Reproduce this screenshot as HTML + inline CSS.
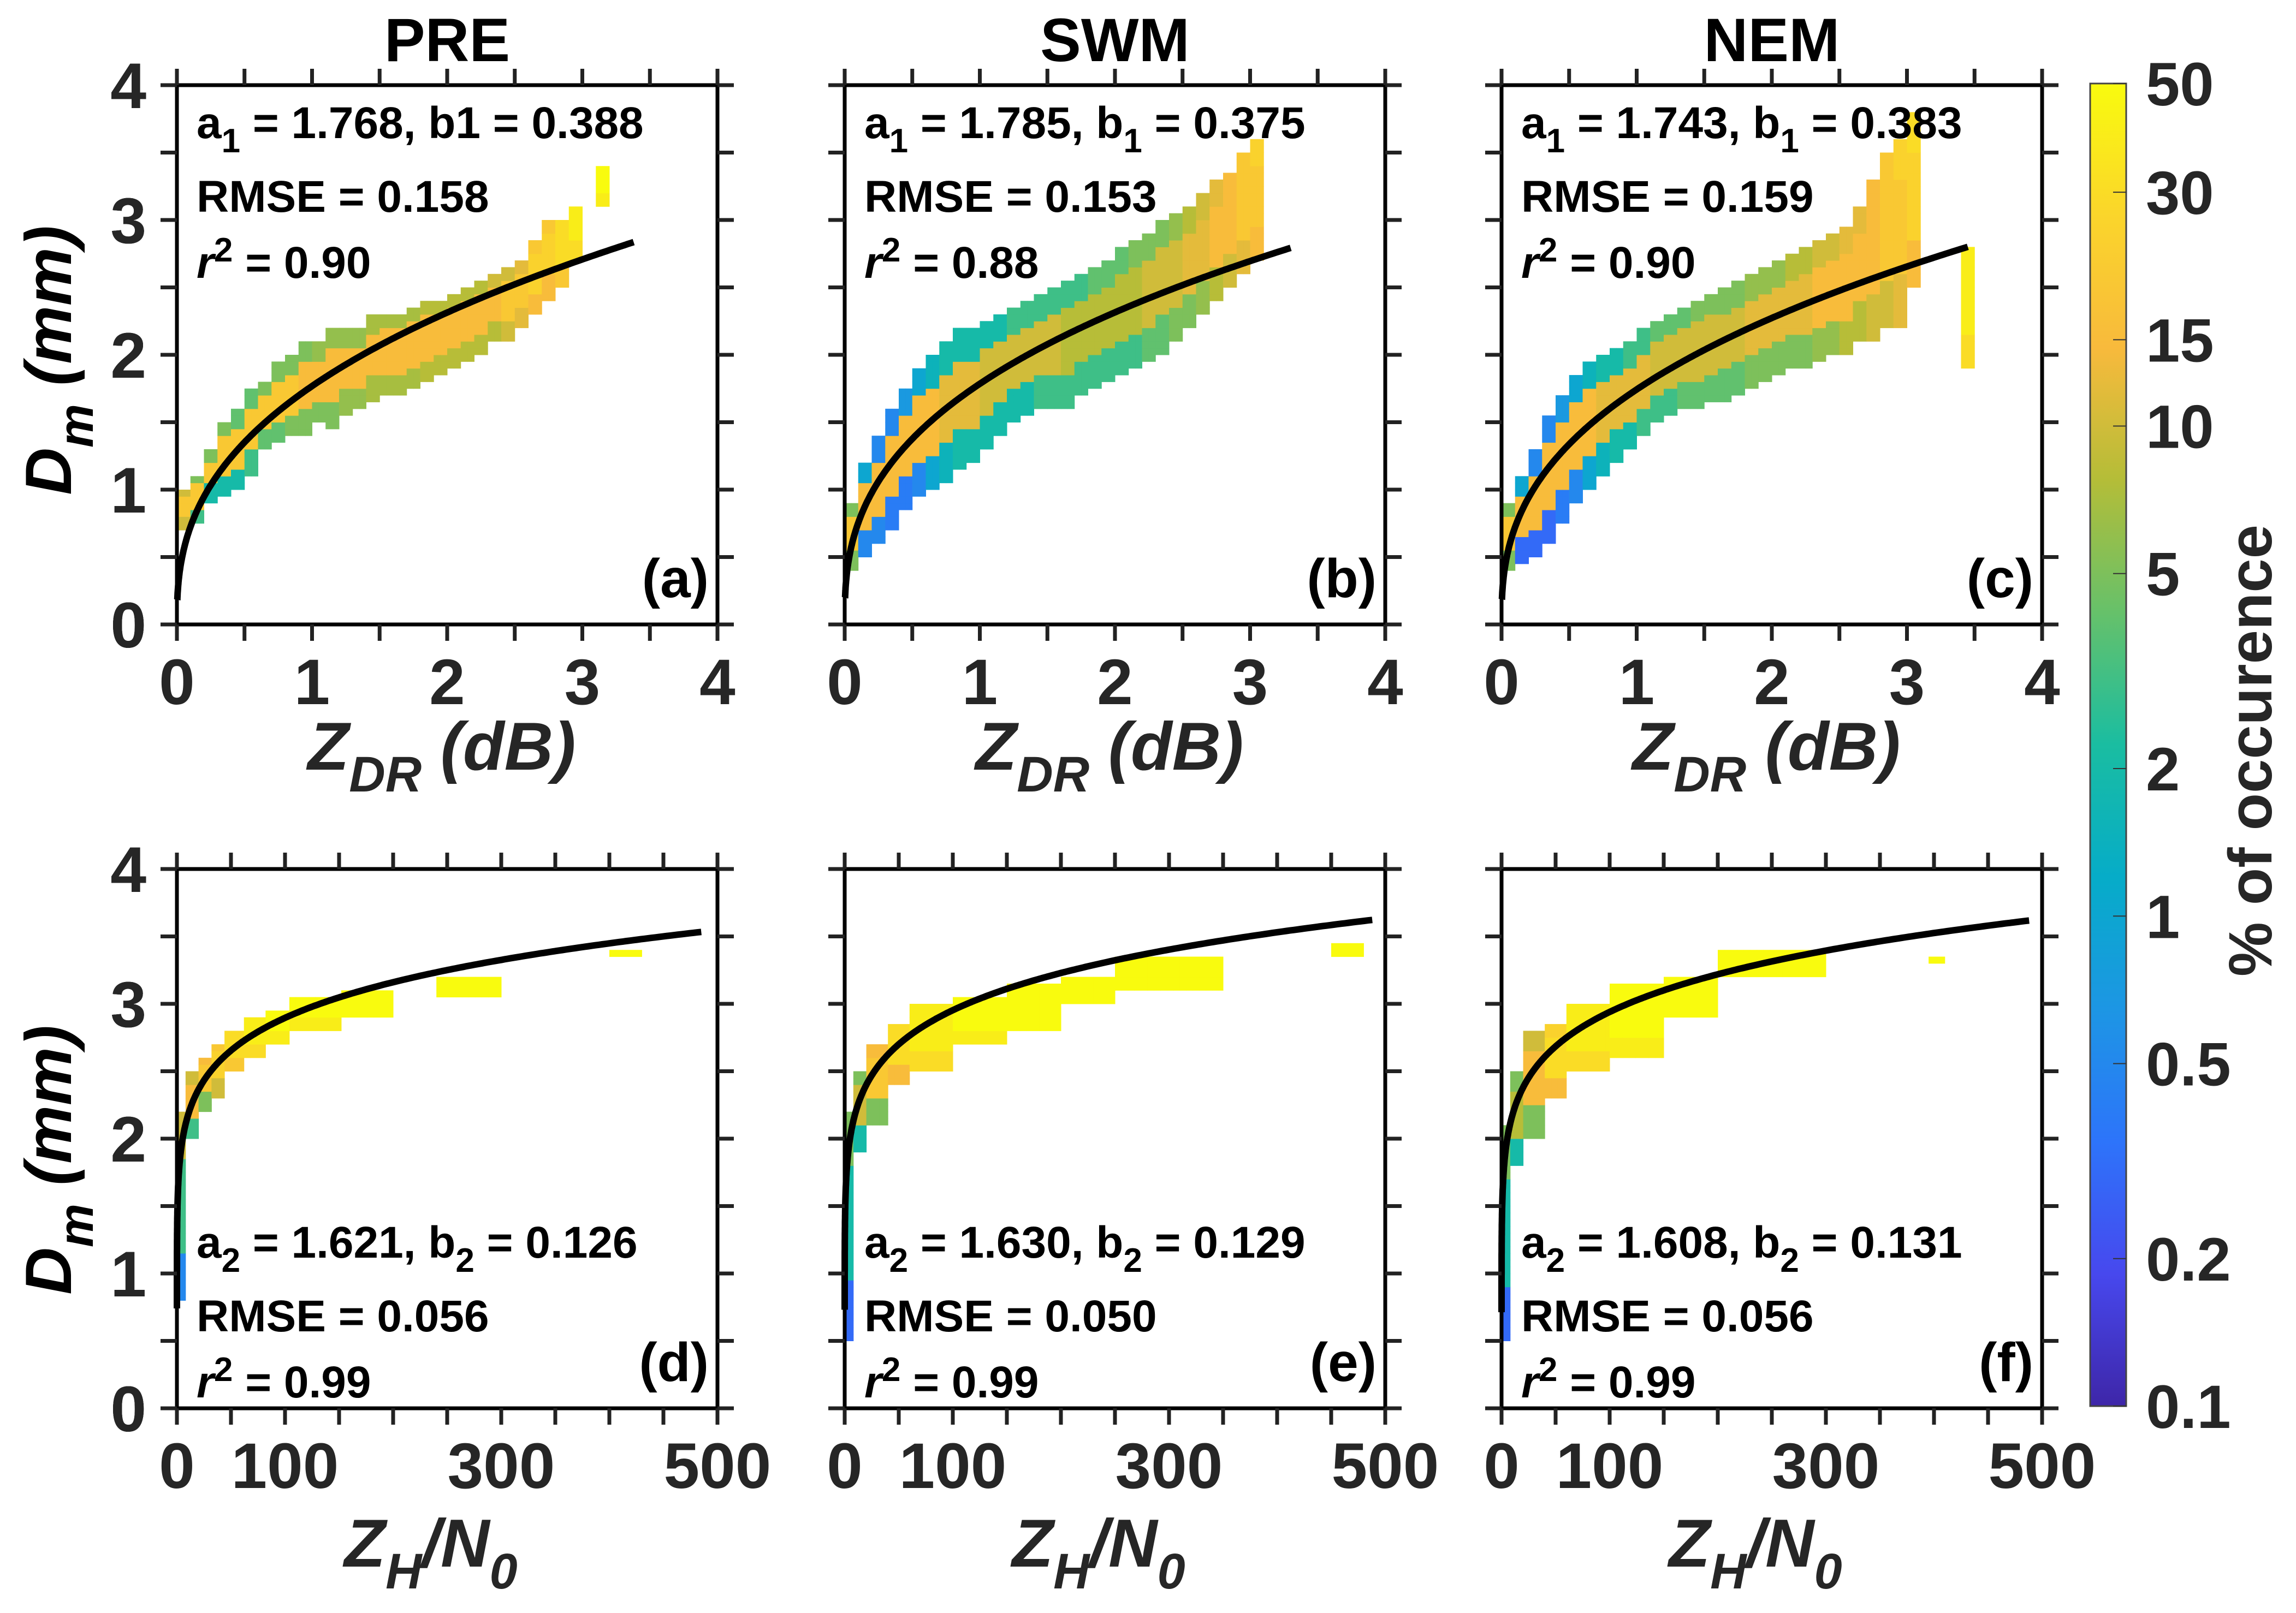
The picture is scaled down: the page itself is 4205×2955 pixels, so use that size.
<!DOCTYPE html>
<html><head><meta charset="utf-8">
<style>
html,body{margin:0;padding:0;background:#fff;}
svg{display:block;}
text{font-family:"Liberation Sans",Arial,sans-serif;font-weight:bold;}
</style></head>
<body>
<svg id="fig" width="4205" height="2955" viewBox="0 0 4205 2955" xmlns="http://www.w3.org/2000/svg">
<defs>
<linearGradient id="parula" x1="0" y1="1" x2="0" y2="0">
<stop offset="0" stop-color="rgb(62,38,168)"/>
<stop offset="0.1" stop-color="rgb(71,72,238)"/>
<stop offset="0.2" stop-color="rgb(45,116,250)"/>
<stop offset="0.3" stop-color="rgb(29,150,228)"/>
<stop offset="0.4" stop-color="rgb(6,172,200)"/>
<stop offset="0.5" stop-color="rgb(26,189,161)"/>
<stop offset="0.6" stop-color="rgb(102,193,106)"/>
<stop offset="0.7" stop-color="rgb(180,189,56)"/>
<stop offset="0.8" stop-color="rgb(248,186,60)"/>
<stop offset="0.9" stop-color="rgb(250,213,43)"/>
<stop offset="1" stop-color="rgb(249,251,14)"/>
</linearGradient>
</defs>
</svg>
<script>
// ---------- data ----------
const panelTitles = ["PRE","SWM","NEM"];
const panelLetters = ["(a)","(b)","(c)","(d)","(e)","(f)"];
const fitA1 = [1.768,1.785,1.743];
const fitB1 = [0.388,0.375,0.383];
const fitA2 = [1.621,1.630,1.608];
const fitB2 = [0.126,0.129,0.131];
const rmseTop = ["0.158","0.153","0.159"];
const rmseBot = ["0.056","0.050","0.056"];
const r2Top = ["0.90","0.88","0.90"];
const r2Bot = ["0.99","0.99","0.99"];
const curveEndTop = [3.38,3.3,3.45];
const curveEndBot = [485,488,488];
const xTicksTop = [0,1,2,3,4];
const xTicksBot = [0,100,300,500];
const yTicks = [0,1,2,3,4];
const cbTicks = [0.1,0.2,0.5,1,2,5,10,15,30,50];
// heatmap bands, top row: [zdr bin start, Dm low, Dm high, value low edge, value core, value high edge]
const bandsA = [[0.0,0.7,1.0,10,20,10],[0.1,0.75,1.1,3,20,5],[0.2,0.9,1.3,2,20,5],[0.3,0.95,1.5,2,20,5],[0.4,1.0,1.6,2,20,4],[0.5,1.1,1.75,3,20,4],[0.6,1.3,1.8,4,20,5],[0.7,1.35,1.95,4,20,5],[0.8,1.4,2.0,5,20,5],[0.9,1.4,2.1,5,15,5],[1.0,1.5,2.1,5,15,6],[1.1,1.45,2.2,5,15,6],[1.2,1.55,2.2,6,15,6],[1.3,1.6,2.2,6,15,6],[1.4,1.65,2.3,7,15,7],[1.5,1.7,2.3,7,15,7],[1.6,1.7,2.3,7,15,7],[1.7,1.75,2.35,7,15,7],[1.8,1.8,2.4,8,15,8],[1.9,1.85,2.4,8,15,8],[2.0,1.9,2.45,8,15,8],[2.1,1.95,2.5,8,15,8],[2.2,2.0,2.55,8,15,8],[2.3,2.1,2.6,8,15,10],[2.4,2.1,2.65,10,20,10],[2.5,2.2,2.7,12,20,12],[2.6,2.3,2.85,15,25,20],[2.7,2.4,3.0,15,25,20],[2.8,2.5,3.0,20,30,30],[2.9,2.7,3.1,30,40,40],[3.1,3.1,3.4,40,50,50]];
const bandsB = [[0.0,0.4,0.9,5,20,5],[0.1,0.5,1.2,0.5,15,1],[0.2,0.6,1.4,0.5,15,0.5],[0.3,0.7,1.6,0.4,15,0.5],[0.4,0.85,1.75,0.4,15,0.7],[0.5,0.95,1.9,0.5,15,1],[0.6,1.0,2.0,1,15,1.5],[0.7,1.05,2.1,1.5,12,2],[0.8,1.15,2.2,2,12,2],[0.9,1.2,2.2,2,12,2],[1.0,1.3,2.25,2,10,2],[1.1,1.4,2.3,2,10,2],[1.2,1.5,2.35,2,10,3],[1.3,1.55,2.4,2,10,3],[1.4,1.6,2.45,3,10,3],[1.5,1.6,2.5,3,10,3],[1.6,1.6,2.55,3,8,3],[1.7,1.7,2.6,3,8,3],[1.8,1.75,2.65,3,8,4],[1.9,1.8,2.7,3,8,4],[2.0,1.85,2.8,3,8,4],[2.1,1.9,2.85,3,8,5],[2.2,1.95,2.9,4,10,5],[2.3,2.0,3.0,4,10,5],[2.4,2.1,3.05,5,10,6],[2.5,2.2,3.1,5,12,8],[2.6,2.3,3.2,6,12,10],[2.7,2.4,3.3,8,15,12],[2.8,2.5,3.35,10,15,15],[2.9,2.6,3.5,12,20,20],[3.0,2.7,3.6,15,20,25]];
const bandsC = [[0.0,0.4,0.9,5,20,5],[0.1,0.45,1.1,0.3,15,1],[0.2,0.5,1.3,0.3,15,0.5],[0.3,0.6,1.55,0.3,15,0.5],[0.4,0.75,1.7,0.4,15,0.7],[0.5,0.9,1.85,0.5,15,1],[0.6,1.0,1.95,1,15,1.5],[0.7,1.1,2.0,1.5,12,2],[0.8,1.2,2.05,2,12,2],[0.9,1.3,2.1,2,12,3],[1.0,1.4,2.2,3,12,3],[1.1,1.5,2.25,3,10,4],[1.2,1.55,2.3,3,10,4],[1.3,1.6,2.35,4,10,4],[1.4,1.6,2.4,4,10,5],[1.5,1.65,2.45,4,10,5],[1.6,1.65,2.5,4,10,5],[1.7,1.7,2.55,4,10,5],[1.8,1.75,2.6,5,12,6],[1.9,1.8,2.65,5,12,6],[2.0,1.85,2.7,5,12,6],[2.1,1.9,2.75,5,12,8],[2.2,1.9,2.8,5,12,8],[2.3,1.95,2.85,6,15,10],[2.4,2.0,2.9,6,15,10],[2.5,2.0,2.95,8,15,12],[2.6,2.1,3.1,8,15,12],[2.7,2.1,3.3,10,15,15],[2.8,2.2,3.5,10,20,20],[2.9,2.2,3.6,12,20,25],[3.0,2.5,3.8,15,25,30],[3.4,1.9,2.8,30,40,40]];
// bottom row: [x start, x end, Dm low, Dm high, value low edge, value core, value high edge]
const bandsD = [[0,8,0.8,2.2,0.5,3,10],[8,20,2.0,2.5,3,15,10],[20,32,2.2,2.6,5,20,15],[32,44,2.3,2.7,10,25,20],[44,62,2.5,2.8,20,30,30],[62,82,2.6,2.9,30,40,40],[82,104,2.7,2.95,40,50,50],[104,152,2.8,3.05,40,50,50],[152,200,2.9,3.1,50,50,50],[240,300,3.05,3.2,50,50,50],[400,430,3.35,3.4,50,50,50]];
const bandsE = [[0,8,0.5,2.2,0.3,2,5],[8,20,1.9,2.5,2,10,5],[20,40,2.1,2.7,5,20,15],[40,60,2.4,2.85,15,30,30],[60,100,2.5,3.0,30,40,40],[100,150,2.7,3.05,40,50,50],[150,200,2.8,3.15,50,50,50],[200,250,3.0,3.2,50,50,50],[250,350,3.1,3.35,50,50,50],[450,480,3.35,3.45,50,50,50]];
const bandsF = [[0,8,0.5,2.1,0.3,2,5],[8,20,1.8,2.5,2,8,5],[20,40,2.0,2.8,5,15,10],[40,60,2.3,2.85,15,30,25],[60,100,2.5,3.0,30,40,40],[100,150,2.6,3.15,40,50,50],[150,200,2.9,3.2,50,50,50],[200,300,3.2,3.4,50,50,50],[395,410,3.3,3.35,50,50,50]];
const topBands = [bandsA,bandsB,bandsC];
const botBands = [bandsD,bandsE,bandsF];

// ---------- layout ----------
const NS="http://www.w3.org/2000/svg";
const svg=document.getElementById('fig');
const colL=[324,1547,2750];
const PW=990, PH=988;
const rowT=[156,1592];
const CB={x:3828,y:153,w:66,h:2423};
const parulaStops=[[62,38,168],[71,72,238],[45,116,250],[29,150,228],[6,172,200],[26,189,161],[102,193,106],[180,189,56],[248,186,60],[250,213,43],[249,251,14]];
function cmap(v){
  let t=Math.log10(v/0.1)/Math.log10(500);
  t=Math.max(0,Math.min(1,t))*10;
  const i=Math.min(9,Math.floor(t)),f=t-i;
  const a=parulaStops[i],b=parulaStops[i+1];
  return `rgb(${Math.round(a[0]+(b[0]-a[0])*f)},${Math.round(a[1]+(b[1]-a[1])*f)},${Math.round(a[2]+(b[2]-a[2])*f)})`;
}
function el(tag,attrs,parent){const e=document.createElementNS(NS,tag);for(const k in attrs)e.setAttribute(k,attrs[k]);(parent||svg).appendChild(e);return e;}
function txt(s,x,y,size,anchor,parent,extra){const t=el('text',Object.assign({x:x,y:y,'font-size':size,'text-anchor':anchor||'start'},extra||{}),parent);t.textContent=s;return t;}

function drawPanel(row,col){
  const L=colL[col],T=rowT[row],R=L+PW,B=T+PH;
  const xmax=row===0?4:500;
  const sx=v=>L+v/xmax*PW, sy=v=>B-v/4*PH;
  const g=el('g',{});
  
  
  const hm=el('g',{},g);
  
  
  const dy=0.05;
  if(row===0){
    topBands[col].forEach(b=>{
      for(let sub=0;sub<2;sub++){
        const x0=b[0]+sub*0.05;
        for(let y=b[1];y<b[2]-1e-6;y+=dy){
          const f=(y-b[1])/(b[2]-b[1]);
          const v=f<0.25?b[3]:(f>0.75?b[5]:b[4]);
          const r=el('rect',{x:sx(x0),y:sy(y+dy),width:sx(x0+0.05)-sx(x0)+0.5,height:sy(y)-sy(y+dy)+0.5,fill:cmap(v)},hm);
          
          
        }
      }
    });
  } else {
    botBands[col].forEach(b=>{
      for(let x0=b[0];x0<b[1]-1e-6;x0+=6){
        for(let y=b[2];y<b[3]-1e-6;y+=dy){
          const f=(y-b[2])/(b[3]-b[2]);
          const v=f<0.25?b[4]:(f>0.75?b[6]:b[5]);
          const r=el('rect',{x:sx(x0),y:sy(y+dy),width:sx(Math.min(x0+6,b[1]))-sx(x0)+0.5,height:sy(y)-sy(y+dy)+0.5,fill:cmap(v)},hm);
          
          
        }
      }
    });
  }
  let pts=[];
  if(row===0){
    const a=fitA1[col],b=fitB1[col],xe=curveEndTop[col];
    for(let i=0;i<=300;i++){const x=0.003+(xe-0.003)*Math.pow(i/300,2);pts.push(sx(x).toFixed(1)+','+sy(a*Math.pow(x,b)).toFixed(1));}
  } else {
    const a=fitA2[col],b=fitB2[col],xe=curveEndBot[col];
    for(let i=0;i<=400;i++){const x=0.002+(xe-0.002)*Math.pow(i/400,3);pts.push(sx(x).toFixed(1)+','+sy(a*Math.pow(x,b)).toFixed(1));}
  }
  const c=el('polyline',{points:pts.join(' '),fill:'none',stroke:'#000','stroke-width':12},g);
  
  
  const box=el('rect',{x:L,y:T,width:PW,height:PH,fill:'none',stroke:'#000','stroke-width':7},g);
  
  
  const tk=el('g',{stroke:'#222','stroke-width':7},g);
  
  
  for(let k=0;k<=8;k++){const y=sy(k*0.5);el('line',{x1:L-30,y1:y,x2:L,y2:y},tk);el('line',{x1:R,y1:y,x2:R+30,y2:y},tk);}
  const xs=row===0?8:10;
  for(let k=0;k<=xs;k++){const x=L+k*PW/xs;el('line',{x1:x,y1:T-30,x2:x,y2:T},tk);el('line',{x1:x,y1:B,x2:x,y2:B+30},tk);}
  yTicks.forEach(v=>{const t=txt(String(v),268,sy(v)+42,118,'end',g,{fill:'#262626'});
    
    });
  (row===0?xTicksTop:xTicksBot).forEach(v=>{const t=txt(String(v),sx(v),B+146,118,'middle',g,{fill:'#262626'});
    
    });
  const ann=el('g',{fill:'#000'},g);
  
  
  const ax=L+36;
  const y1=row===0?T+97:T+712, y2=y1+135, y3=y2+121;
  const fs=82, ss=62;
  const t1=el('text',{x:ax,y:y1,'font-size':fs},ann);
  const sub = row===0?'1':'2';
  const aV = row===0?fitA1[col]:fitA2[col];
  const bV = row===0?fitB1[col]:fitB2[col];
  if(row===0 && col===0){
    t1.innerHTML=`a<tspan font-size="${ss}" dy="26">1</tspan><tspan dy="-26"> = ${aV.toFixed(3)}, b1 = ${bV.toFixed(3)}</tspan>`;
  } else {
    t1.innerHTML=`a<tspan font-size="${ss}" dy="26">${sub}</tspan><tspan dy="-26"> = ${aV.toFixed(3)}, b</tspan><tspan font-size="${ss}" dy="26">${sub}</tspan><tspan dy="-26"> = ${bV.toFixed(3)}</tspan>`;
  }
  txt('RMSE = '+(row===0?rmseTop[col]:rmseBot[col]),ax,y2,fs,'start',ann);
  const t3=el('text',{x:ax,y:y3,'font-size':fs},ann);
  t3.innerHTML=`<tspan font-style="italic">r</tspan><tspan font-size="${ss}" dy="-30">2</tspan><tspan dy="30"> = ${row===0?r2Top[col]:r2Bot[col]}</tspan>`;
  const pl=txt(panelLetters[row*3+col],R-16,B-50,100,'end',g,{fill:'#000'});
  
  
  if(row===0){
    const ti=txt(panelTitles[col],L+PW/2,112,112,'middle',g,{fill:'#000'});
    
    
    const xl=el('text',{x:L+PW/2-10,y:1410,'font-size':124,'text-anchor':'middle','font-style':'italic',fill:'#262626'},g);
    xl.innerHTML='Z<tspan font-size="92" dy="40">DR</tspan><tspan dy="-40"> (dB)</tspan>';
    
    
  } else {
    const xl=el('text',{x:L+PW/2-30,y:2870,'font-size':124,'text-anchor':'middle','font-style':'italic',fill:'#262626'},g);
    xl.innerHTML='Z<tspan font-size="92" dy="40">H</tspan><tspan dy="-40">/N</tspan><tspan font-size="92" dy="40">0</tspan>';
    
    
  }
  if(col===0){
    const cy=row===0?660:2125;
    const yl=el('text',{x:0,y:0,'font-size':120,'text-anchor':'middle','font-style':'italic',fill:'#000',transform:`translate(130,${cy}) rotate(-90)`},g);
    yl.innerHTML='D<tspan font-size="90" dy="40">m</tspan><tspan dy="-40"> (mm)</tspan>';
    
    
  }
}
for(let r=0;r<2;r++)for(let c=0;c<3;c++)drawPanel(r,c);

const cbg=el('g',{});


const cbr=el('rect',{x:CB.x,y:CB.y,width:CB.w,height:CB.h,fill:'url(#parula)',stroke:'#444','stroke-width':3},cbg);


cbTicks.forEach(v=>{
  const y=CB.y+CB.h-Math.log10(v/0.1)/Math.log10(500)*CB.h;
  el('line',{x1:CB.x+CB.w-24,y1:y,x2:CB.x+CB.w,y2:y,stroke:'#333','stroke-width':2},cbg);
  const t=txt(String(v),3930,y+40,112,'start',cbg,{fill:'#262626'});
  
  
});
const cbl=txt('% of occurence',0,0,112,'middle',cbg,{fill:'#262626',transform:'translate(4160,1375) rotate(-90)'});


</script>
</body></html>
